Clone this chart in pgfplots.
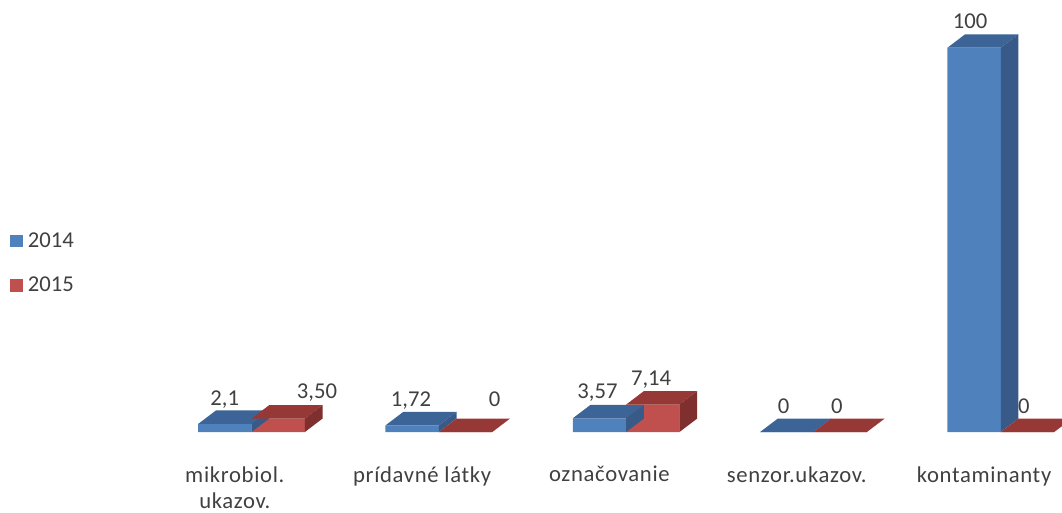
\documentclass[border=0pt]{standalone}
\usepackage{pgfplots}
\usepackage{pgfplotstable}
\pgfplotsset{compat=1.18}
\usepackage{fontspec}
\setmainfont{Carlito}
\newfontfamily\catfont{Carlito}[LetterSpace=3]
\definecolor{bluefront}{HTML}{4F81BD}
\definecolor{bluetop}{HTML}{3C6496}
\definecolor{blueside}{HTML}{385A88}
\definecolor{redfront}{HTML}{C0504D}
\definecolor{redtop}{HTML}{963835}
\definecolor{redside}{HTML}{7F302E}
\definecolor{txt}{HTML}{404040}

% 3D top and side faces of a bar, drawn at the bar's top point (category centre, value)
\pgfdeclareplotmark{cubeblue}{%
  \pgfmathsetmacro\hh{\ry*2.882}%
  \pgfsetfillcolor{bluetop}%
  \pgfpathmoveto{\pgfpoint{-40pt}{0pt}}%
  \pgfpathlineto{\pgfpoint{0pt}{0pt}}%
  \pgfpathlineto{\pgfpoint{13.3pt}{10.1pt}}%
  \pgfpathlineto{\pgfpoint{-26.7pt}{10.1pt}}%
  \pgfpathclose
  \pgfusepath{fill}%
  \pgfsetfillcolor{blueside}%
  \pgfpathmoveto{\pgfpoint{0pt}{0pt}}%
  \pgfpathlineto{\pgfpoint{13.3pt}{10.1pt}}%
  \pgfpathlineto{\pgfpoint{13.3pt}{10.1pt-\hh pt}}%
  \pgfpathlineto{\pgfpoint{0pt}{-\hh pt}}%
  \pgfpathclose
  \pgfusepath{fill}%
}
\pgfdeclareplotmark{cubered}{%
  \pgfmathsetmacro\hh{\ry*2.882}%
  \pgfsetfillcolor{redtop}%
  \pgfpathmoveto{\pgfpoint{0pt}{0pt}}%
  \pgfpathlineto{\pgfpoint{40pt}{0pt}}%
  \pgfpathlineto{\pgfpoint{53.3pt}{10.1pt}}%
  \pgfpathlineto{\pgfpoint{13.3pt}{10.1pt}}%
  \pgfpathclose
  \pgfusepath{fill}%
  \pgfsetfillcolor{redside}%
  \pgfpathmoveto{\pgfpoint{40pt}{0pt}}%
  \pgfpathlineto{\pgfpoint{53.3pt}{10.1pt}}%
  \pgfpathlineto{\pgfpoint{53.3pt}{10.1pt-\hh pt}}%
  \pgfpathlineto{\pgfpoint{40pt}{-\hh pt}}%
  \pgfpathclose
  \pgfusepath{fill}%
}

\pgfplotstableread{
x y dx dy lab
0 2.1 -20.1 13.8 2,1
1 1.72 -20.9 14.0 1,72
2 3.57 -21.5 14.7 3,57
3 0 -22.4 13.7 0
4 100 -23.0 14.3 100
}\tblA
\pgfplotstableread{
x y dx dy lab
0 3.5 49.1 15.1 3,50
1 0 41.9 19.0 0
2 7.14 18.7 14.2 7,14
3 0 17.5 13.7 0
4 0 17.3 13.7 0
}\tblB

\begin{document}
\begin{tikzpicture}
\useasboundingbox (0,0) rectangle (796.5pt,384pt);
\begin{axis}[
  at={(118.4pt,60pt)}, anchor=south west,
  scale only axis, width=702.4pt, height=288.2pt,
  xmin=-0.5, xmax=4.5, ymin=0, ymax=100,
  clip=false,
  axis line style={draw=none}, tick style={draw=none},
  ytick=\empty,
  xtick={0,1,2,3,4},
  xticklabels={{mikrobiol.\\ukazov.}, prídavné látky, označovanie, senzor.ukazov., kontaminanty},
  xticklabel style={font=\catfont\fontsize{17}{19.7}\selectfont, text=txt, align=center, anchor=north, inner sep=0pt, xshift=-12.5pt, yshift=-25.5pt},
  legend style={draw=none, fill=none, at={(0,0)}, anchor=west, xshift=-110.9pt, yshift=126.6pt,
    font=\fontsize{17}{21}\selectfont, text=txt, row sep=21pt, inner sep=0pt,
    nodes={inner sep=0pt}, /tikz/every odd column/.append style={column sep=3.75pt}},
  legend cell align=left,
]
\addplot[ybar, bar width=40pt, bar shift=-20pt, fill=bluefront, draw=none,
  legend image code/.code={\fill[bluefront] (0pt,-4.7pt) rectangle (9.4pt,4.7pt);}]
  table[x=x,y=y]{\tblA};
\addlegendentry{2014}
\addplot[scatter, only marks, mark=cubeblue, forget plot,
  visualization depends on={\thisrow{y}\as\ry}]
  table[x=x,y=y]{\tblA};
\addplot[ybar, bar width=40pt, bar shift=20pt, fill=redfront, draw=none,
  legend image code/.code={\fill[redfront] (0pt,-4.7pt) rectangle (9.4pt,4.7pt);}]
  table[x=x,y=y]{\tblB};
\addlegendentry{2015}
\addplot[scatter, only marks, mark=cubered, forget plot,
  visualization depends on={\thisrow{y}\as\ry}]
  table[x=x,y=y]{\tblB};
\addplot[draw=none, mark=none, forget plot, nodes near coords, point meta=explicit symbolic,
  visualization depends on={\thisrow{dx}\as\ldx},
  visualization depends on={\thisrow{dy}\as\ldy},
  nodes near coords style={anchor=base, inner sep=0pt, xshift=\ldx pt, yshift=\ldy pt, font=\fontsize{17}{21}\selectfont, text=txt}]
  table[x=x,y=y,meta=lab]{\tblA};
\addplot[draw=none, mark=none, forget plot, nodes near coords, point meta=explicit symbolic,
  visualization depends on={\thisrow{dx}\as\ldx},
  visualization depends on={\thisrow{dy}\as\ldy},
  nodes near coords style={anchor=base, inner sep=0pt, xshift=\ldx pt, yshift=\ldy pt, font=\fontsize{17}{21}\selectfont, text=txt}]
  table[x=x,y=y,meta=lab]{\tblB};
\end{axis}
\end{tikzpicture}
\end{document}
